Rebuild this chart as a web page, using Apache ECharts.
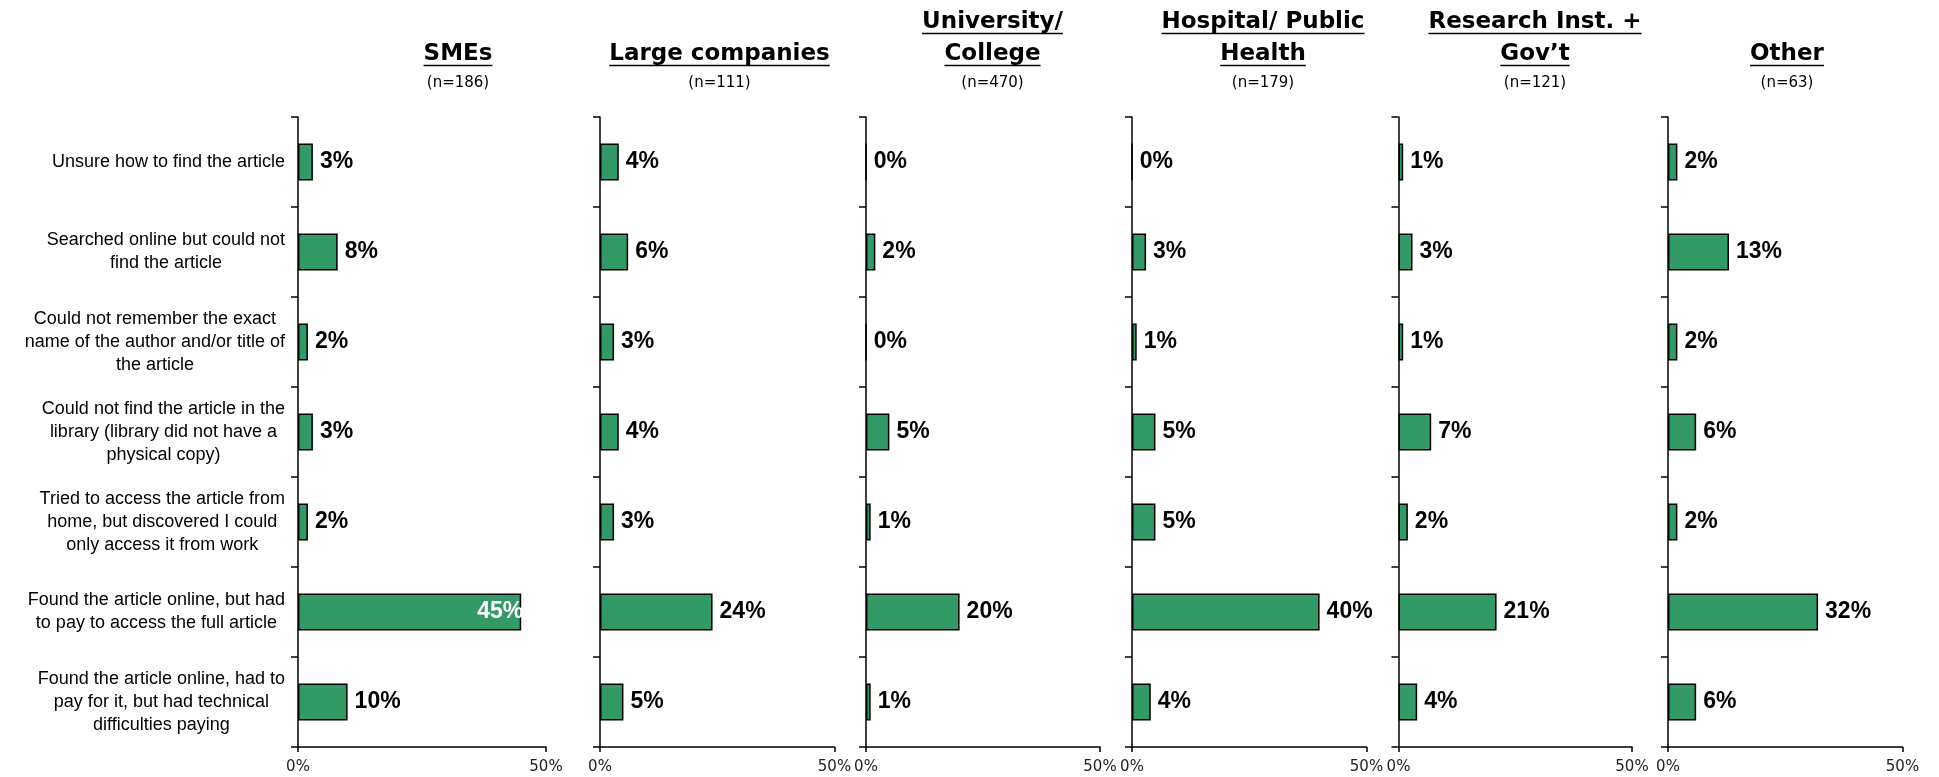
<!DOCTYPE html>
<html>
<head>
<meta charset="utf-8">
<title>Problems accessing the article, by organisation type</title>
<script src="https://cdn.jsdelivr.net/npm/echarts@6/dist/echarts.min.js"></script>
<style>
  html, body { margin: 0; padding: 0; background: #fff; }
  #chart { width: 1939px; height: 777px; }
</style>
</head>
<body>
<div id="chart"></div>
<script>
// categories, top to bottom
const reasons = [
  "Unsure how to find the article",
  "Searched online but could not\nfind the article",
  "Could not remember the exact\nname of the author and/or title of\nthe article",
  "Could not find the article in the\nlibrary (library did not have a\nphysical copy)",
  "Tried to access the article from\nhome, but discovered I could\nonly access it from work",
  "Found the article online, but had\nto pay to access the full article",
  "Found the article online, had to\npay for it, but had technical\ndifficulties paying"
];

const groups = ["SMEs", "Large companies", "University/\nCollege", "Hospital/ Public\nHealth", "Research Inst. +\nGov’t", "Other"];
const groupSizes = [186, 111, 470, 179, 121, 63];

// % of respondents, same order as reasons
const smes = [3, 8, 2, 3, 2, 45, 10];
const largeCompanies = [4, 6, 3, 4, 3, 24, 5];
const university = [0, 2, 0, 5, 1, 20, 1];
const hospital = [0, 3, 1, 5, 5, 40, 4];
const researchGov = [1, 3, 1, 7, 2, 21, 4];
const other = [2, 13, 2, 6, 2, 32, 6];

const xTicks = [0, 50];

const groupValues = [smes, largeCompanies, university, hospital, researchGov, other];

// panel layout (px)
const panelLeft = [298, 600, 866, 1132, 1398.5, 1668];
const panelWidth = [248, 234.5, 234, 234.5, 233.5, 234.5];
const titleCenter = [458, 719.5, 992.5, 1263, 1535, 1787];
const gridTop = 117;
const gridBottom = 30;
const titleLastLineY = 54; // middle of the last title line
const titleLineHeight = 32;

const BAR_COLOR = "#339966";
const SANS = "'Liberation Sans', Arial, sans-serif";
const TITLE_FONT = "'DejaVu Sans', Verdana, sans-serif";

const axisStroke = { color: "#000", width: 1.5 };

// underline for each line of the panel titles
const ctx = document.createElement("canvas").getContext("2d");
ctx.font = "bold 23px 'DejaVu Sans'";
const underlines = [];
groups.forEach(function (g, i) {
  const lines = g.split("\n");
  const firstY = titleLastLineY - (lines.length - 1) * titleLineHeight;
  lines.forEach(function (t, j) {
    const w = ctx.measureText(t).width;
    const y = firstY + j * titleLineHeight + 11.5;
    underlines.push({
      type: "line",
      silent: true,
      shape: { x1: titleCenter[i] - w / 2, y1: y, x2: titleCenter[i] + w / 2, y2: y },
      style: { stroke: "#000", lineWidth: 1.5 }
    });
  });
});

const chart = echarts.init(document.getElementById("chart"));

chart.setOption({
  animation: false,
  backgroundColor: "#fff",
  title: groups.map(function (g, i) {
    const nLines = g.split("\n").length;
    return {
      text: g,
      subtext: "(n=" + groupSizes[i] + ")",
      left: titleCenter[i],
      top: titleLastLineY - titleLineHeight / 2 - (nLines - 1) * titleLineHeight,
      textAlign: "center",
      padding: 0,
      itemGap: 4,
      textStyle: {
        fontFamily: TITLE_FONT,
        fontSize: 23,
        fontWeight: "bold",
        color: "#000",
        lineHeight: titleLineHeight
      },
      subtextStyle: {
        fontFamily: TITLE_FONT,
        fontSize: 15,
        color: "#000",
        lineHeight: 18
      }
    };
  }),
  graphic: underlines,
  grid: groups.map(function (g, i) {
    return {
      left: panelLeft[i],
      width: panelWidth[i],
      top: gridTop,
      bottom: gridBottom,
      outerBoundsMode: "none"
    };
  }),
  xAxis: groups.map(function (g, i) {
    return {
      type: "value",
      gridIndex: i,
      min: xTicks[0],
      max: xTicks[1],
      interval: xTicks[1] - xTicks[0],
      axisLine: { show: true, lineStyle: axisStroke },
      axisTick: { show: true, length: 5, lineStyle: axisStroke },
      splitLine: { show: false },
      axisLabel: {
        formatter: "{value}%",
        fontFamily: TITLE_FONT,
        fontSize: 15,
        color: "#222",
        margin: 13
      }
    };
  }),
  yAxis: groups.map(function (g, i) {
    return {
      type: "category",
      gridIndex: i,
      data: reasons,
      inverse: true,
      axisLine: { show: true, lineStyle: axisStroke },
      axisTick: { show: true, length: 7, lineStyle: axisStroke },
      splitLine: { show: false },
      axisLabel: i === 0 ? {
        margin: 13,
        // lines centred inside a right-aligned block
        formatter: function (v) {
          return "{c|" + v + "}";
        },
        rich: {
          c: {
            align: "center",
            fontFamily: SANS,
            fontSize: 18,
            lineHeight: 23,
            color: "#000"
          }
        }
      } : { show: false }
    };
  }),
  series: groupValues.map(function (vals, i) {
    return {
      name: groups[i],
      type: "bar",
      xAxisIndex: i,
      yAxisIndex: i,
      barWidth: "41%",
      itemStyle: { color: BAR_COLOR, borderColor: "#000", borderWidth: 1.5 },
      label: {
        show: true,
        position: "right",
        distance: 7,
        formatter: "{c}%",
        fontFamily: SANS,
        fontSize: 23,
        fontWeight: "bold",
        color: "#000"
      },
      data: vals.map(function (v) {
        // label does not fit past the bar end -> put it inside, white
        if (v >= 44) {
          return { value: v, label: { position: "insideRight", distance: -2, color: "#fff" } };
        }
        return v;
      })
    };
  })
});
</script>
</body>
</html>
